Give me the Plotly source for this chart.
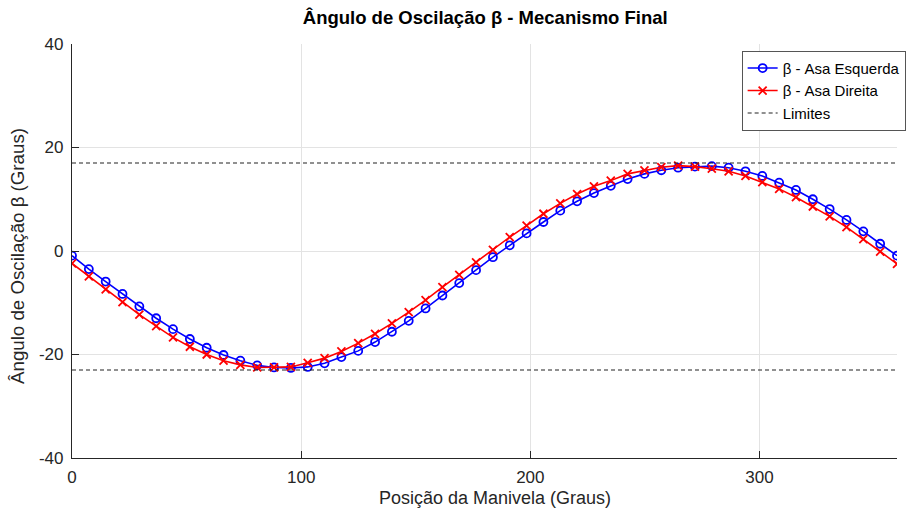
import numpy as np
import plotly.graph_objects as go

# Crank angle samples (degrees)
crank_deg = np.linspace(0, 360, 50)

# Oscillation angle of each wing (degrees)
beta_left = [-0.9, -3.5, -5.9, -8.3, -10.7, -13.0, -15.1, -17.0, -18.7, -20.1,
             -21.2, -22.1, -22.5, -22.6, -22.4, -21.7, -20.5, -19.3, -17.6, -15.6,
             -13.5, -11.1, -8.6, -6.2, -3.7, -1.2, 1.1, 3.4, 5.6, 7.8,
             9.6, 11.2, 12.6, 13.9, 14.9, 15.6, 16.1, 16.3, 16.4, 16.1,
             15.4, 14.5, 13.2, 11.8, 10.0, 8.1, 6.0, 3.8, 1.4, -0.9]
beta_right = [-2.4, -4.9, -7.4, -9.9, -12.3, -14.5, -16.7, -18.5, -20.0, -21.2,
              -22.0, -22.5, -22.5, -22.4, -21.6, -20.7, -19.4, -17.8, -16.0, -14.0,
              -11.8, -9.5, -7.0, -4.6, -2.2, 0.2, 2.7, 4.9, 7.2, 9.2,
              11.0, 12.5, 13.6, 14.9, 15.6, 16.2, 16.5, 16.3, 15.9, 15.4,
              14.5, 13.3, 12.0, 10.4, 8.6, 6.7, 4.6, 2.3, -0.1, -2.5]

# Angular limits
limit_upper = 17.0
limit_lower = -23.0
x_range = [0, 360]

# Tick positions and labels
x_ticks = [0, 100, 200, 300]
x_ticklabels = ["0", "100", "200", "300"]
y_ticks = [-40, -20, 0, 20, 40]
y_ticklabels = ["-40", "-20", "0", "20", "40"]

FONT = "Liberation Sans, Arial, sans-serif"
TXT = "#262626"

fig = go.Figure()
fig.add_trace(go.Scatter(
    x=crank_deg, y=beta_left, mode="lines+markers", name="β - Asa Esquerda",
    line=dict(color="#0000ff", width=1.6),
    marker=dict(symbol="circle-open", size=8, color="#0000ff", line=dict(width=1.8)),
))
fig.add_trace(go.Scatter(
    x=crank_deg, y=beta_right, mode="lines+markers", name="β - Asa Direita",
    line=dict(color="#ff0000", width=1.6),
    marker=dict(symbol="x-thin-open", size=8, color="#ff0000",
                line=dict(width=1.8, color="#ff0000")),
))
fig.add_trace(go.Scatter(
    x=x_range, y=[limit_upper, limit_upper], mode="lines", name="Limites",
    line=dict(color="#222222", width=1.1, dash="4px,3px"),
))
fig.add_trace(go.Scatter(
    x=x_range, y=[limit_lower, limit_lower], mode="lines", showlegend=False,
    line=dict(color="#222222", width=1.1, dash="4px,3px"),
))

axis_common = dict(
    showgrid=True, gridcolor="#e3e3e3", gridwidth=1,
    showline=True, linecolor=TXT, linewidth=1.2,
    ticks="inside", ticklen=7, tickcolor=TXT, tickwidth=1,
    zeroline=False, tickfont=dict(family=FONT, size=17, color=TXT),
)

fig.update_layout(
    width=907, height=508,
    margin=dict(l=72, r=10, t=44, b=50, autoexpand=False),
    paper_bgcolor="white", plot_bgcolor="white",
    font=dict(family=FONT, color=TXT),
    title=dict(text="<b>Ângulo de Oscilação β - Mecanismo Final</b>",
               x=0.535, xanchor="center", y=0.965, yanchor="middle",
               font=dict(family=FONT, size=18.5, color="#000000")),
    xaxis=dict(range=x_range, tickvals=x_ticks, ticktext=x_ticklabels,
               ticklabelstandoff=3, **axis_common),
    yaxis=dict(range=[-40, 40], tickvals=y_ticks, ticktext=y_ticklabels,
               ticklabelstandoff=4, **axis_common),
    legend=dict(xref="container", yref="container",
                x=0.9985, xanchor="right", y=0.9, yanchor="top",
                bgcolor="white", bordercolor="#555555", borderwidth=1,
                font=dict(family=FONT, size=15, color="#000000"),
                tracegroupgap=0, itemwidth=30),
    showlegend=True,
    annotations=[
        dict(text="Posição da Manivela (Graus)", xref="paper", yref="paper",
             x=0.513, y=-0.0975, xanchor="center", yanchor="middle", showarrow=False,
             font=dict(family=FONT, size=18, color=TXT)),
        dict(text="Ângulo de Oscilação β (Graus)", xref="paper", yref="paper",
             x=-0.0655, y=0.488, xanchor="center", yanchor="middle", showarrow=False,
             textangle=-90, font=dict(family=FONT, size=18.7, color=TXT)),
    ],
)

fig.write_html("out.html")
